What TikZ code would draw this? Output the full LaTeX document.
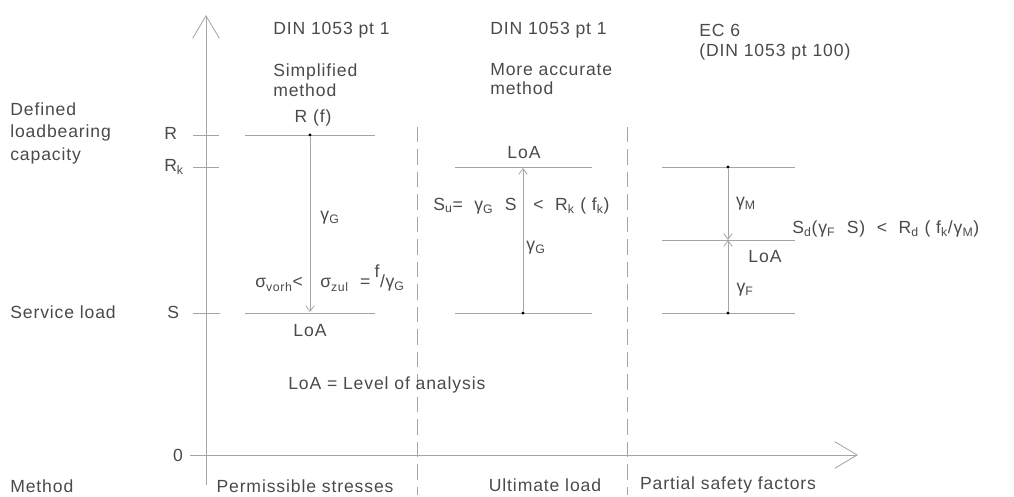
\documentclass[tikz,border=0pt]{standalone}
\usepackage{fontspec}
\setmainfont{Liberation Sans}[LetterSpace=5]
\usetikzlibrary{arrows.meta}
\definecolor{inkgrey}{HTML}{4A4A4A}
\definecolor{linegrey}{HTML}{A5A5A5}
\tikzset{
  lbl/.style={text=inkgrey, font=\fontsize{12.5}{14}\selectfont, inner sep=0pt},
  axis/.style={draw=linegrey, line width=0.6pt, -{Straight Barb[length=16pt,width=19pt,line width=0.6pt]}},
  level/.style={draw=linegrey, line width=0.6pt},
  factor/.style={draw=linegrey, line width=0.6pt, -{Straight Barb[length=4pt,width=6pt,line width=0.6pt]}},
  divider/.style={draw=linegrey, line width=0.6pt, dash pattern=on 11pt off 5pt},
  dot/.style={fill=black, circle, inner sep=0pt, minimum size=2.2pt},
}
\begin{document}
\begin{tikzpicture}[x=0.025cm, y=-0.025cm]
	\useasboundingbox (0,0) rectangle (1014,497);
	\coordinate (ybot) at (206,485);
	\coordinate (ytop) at (206,15);
	\coordinate (xleft) at (190,455);
	\coordinate (xright) at (858,455);
	\draw[axis] (ybot) -- (ytop);
	\draw[axis] (xleft) -- (xright);
	\draw[level] (193,135) -- (219,135);
	\draw[level] (193,167) -- (219,167);
	\draw[level] (193,313) -- (220,313);
	\node[lbl, anchor=west, align=left] (cap) at (10,133) {Defined\\[2pt]loadbearing\\[2pt]capacity};
	\node[lbl, anchor=west] (service) at (10,312) {Service load};
	\node[lbl, anchor=west] (method) at (10,486) {Method};
	\node[lbl, anchor=west] (tR) at (164,133) {R};
	\node[lbl, anchor=west] (tRk) at (164,167) {R\textsubscript{k}};
	\node[lbl, anchor=west] (tS) at (167,312) {S};
	\node[lbl] (tzero) at (178,455) {0};
	\draw[divider] (417,127) -- (417,495);
	\draw[divider] (627,127) -- (627,495);
	\node[lbl, anchor=west] (headA) at (273,30) {DIN 1053 pt 1};
	\node[lbl, anchor=west, align=left] (subA) at (273,80) {Simplified\\method};
	\node[lbl] (rf) at (313,118) {R (f)};
	\draw[level] (245,135) -- (375,135);
	\draw[level] (245,313) -- (375,313);
	\node[dot] (topA) at (310,135) {};
	\coordinate (botA) at (310,312);
	\draw[factor] (topA) -- (botA);
	\node[lbl] (gA) at (330,218) {γ\textsubscript{G}};
	\node[lbl, anchor=base west] (vorh) at (255,288) {σ\textsubscript{vorh}<};
	\node[lbl, anchor=base west] (zul) at (320,288) {σ\textsubscript{zul}\kern8pt=\kern3pt\raisebox{1.1ex}{f}\kern0.5pt/\kern0.5pt γ\textsubscript{G}};
	\node[lbl] (loaA) at (310,331) {LoA};
	\node[lbl, anchor=west] (legend) at (288,385) {LoA = Level of analysis};
	\node[lbl, anchor=west] (headB) at (490,30) {DIN 1053 pt 1};
	\node[lbl, anchor=west, align=left] (subB) at (490,79) {More accurate\\method};
	\node[lbl] (loaB) at (524,153) {LoA};
	\draw[level] (455,167) -- (592,167);
	\draw[level] (455,313) -- (592,313);
	\node[dot] (botB) at (523,313) {};
	\coordinate (topB) at (523,168);
	\draw[factor] (botB) -- (topB);
	\node[lbl] (gB) at (536,248) {γ\textsubscript{G}};
	\node[lbl, anchor=east] (su) at (517,206) {S\textsubscript{u}= \ γ\textsubscript{G} \ S};
	\node[lbl, anchor=west] (rk) at (533,206) {< \ R\textsubscript{k} ( f\textsubscript{k})};
	\node[lbl, anchor=west] (headC) at (699,30) {EC 6};
	\node[lbl, anchor=west] (subC) at (699,52) {(DIN 1053 pt 100)};
	\draw[level] (662,167) -- (795,167);
	\draw[level] (662,240) -- (795,240);
	\draw[level] (662,313) -- (795,313);
	\node[dot] (topC) at (728,167) {};
	\node[dot] (botC) at (728,313) {};
	\coordinate (midC) at (728,240);
	\draw[factor] (topC) -- (midC);
	\draw[factor] (botC) -- (midC);
	\node[lbl] (gM) at (746,204) {γ\textsubscript{M}};
	\node[lbl] (loaC) at (765,257) {LoA};
	\node[lbl] (gF) at (745,290) {γ\textsubscript{F}};
	\node[lbl, anchor=west] (sd) at (792,229) {S\textsubscript{d}(γ\textsubscript{F} \ S) \ < \ R\textsubscript{d} ( f\textsubscript{k}/γ\textsubscript{M})};
	\node[lbl] (mA) at (305,486) {Permissible stresses};
	\node[lbl] (mB) at (545,485) {Ultimate load};
	\node[lbl] (mC) at (728,485) {Partial safety factors};
\end{tikzpicture}
\end{document}
